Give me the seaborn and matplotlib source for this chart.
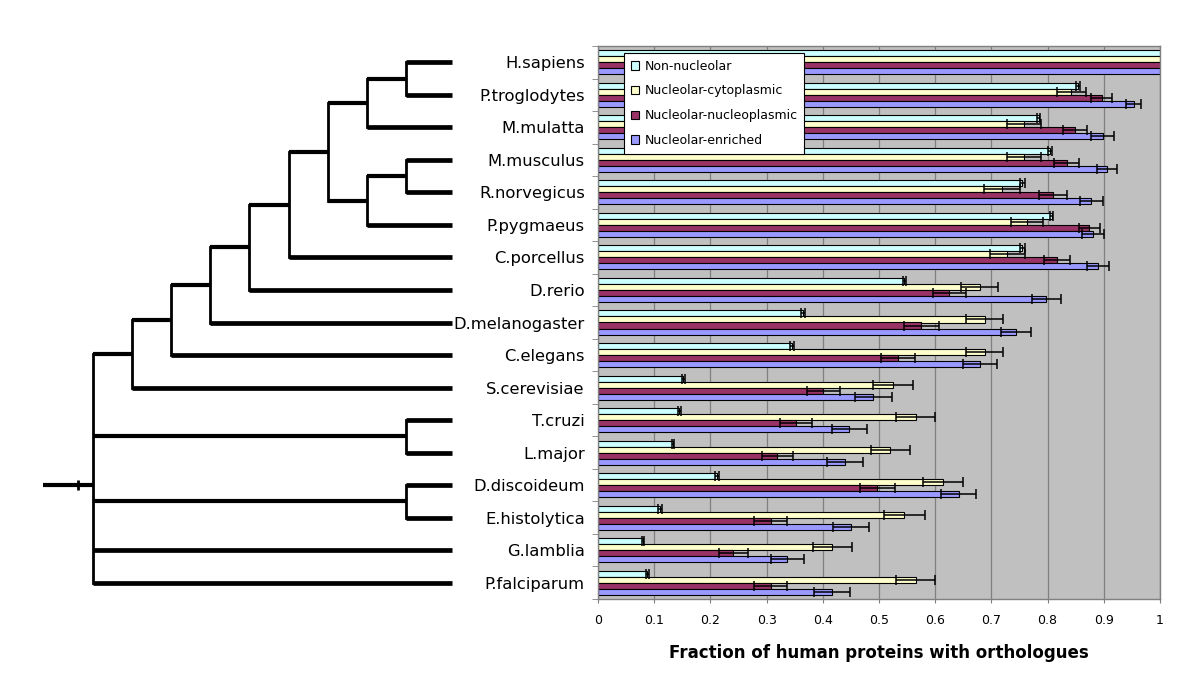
import numpy as np
import pandas as pd
import matplotlib
matplotlib.use("Agg")
import matplotlib.pyplot as plt
import seaborn as sns

plt.rcParams['font.family'] = ['DejaVu Sans']

# ---------------- data ----------------
species = ["H.sapiens", "P.troglodytes", "M.mulatta", "M.musculus", "R.norvegicus",
           "P.pygmaeus", "C.porcellus", "D.rerio", "D.melanogaster", "C.elegans",
           "S.cerevisiae", "T.cruzi", "L.major", "D.discoideum", "E.histolytica",
           "G.lamblia", "P.falciparum"]

series = ["Non-nucleolar", "Nucleolar-cytoplasmic", "Nucleolar-nucleoplasmic", "Nucleolar-enriched"]
colors = ["#CCFFFF", "#FFFFCC", "#993366", "#9999FF"]

non_nucleolar = [1.0, 0.854, 0.784, 0.804, 0.755, 0.807, 0.755, 0.545, 0.365, 0.345,
                 0.152, 0.145, 0.134, 0.212, 0.110, 0.080, 0.088]
non_nucleolar_err = [0, 0.003, 0.003, 0.003, 0.004, 0.003, 0.004, 0.003, 0.003, 0.003,
                     0.003, 0.003, 0.002, 0.003, 0.003, 0.002, 0.002]

nucleolar_cytoplasmic = [1.0, 0.842, 0.758, 0.758, 0.718, 0.763, 0.728, 0.679, 0.688, 0.688,
                         0.525, 0.565, 0.520, 0.614, 0.545, 0.417, 0.565]
nucleolar_cytoplasmic_err = [0, 0.026, 0.030, 0.030, 0.032, 0.029, 0.031, 0.033, 0.033, 0.033,
                             0.036, 0.035, 0.035, 0.035, 0.036, 0.035, 0.034]

nucleolar_nucleoplasmic = [1.0, 0.896, 0.849, 0.834, 0.809, 0.874, 0.816, 0.625, 0.575, 0.534,
                           0.401, 0.352, 0.319, 0.497, 0.307, 0.241, 0.307]
nucleolar_nucleoplasmic_err = [0, 0.018, 0.021, 0.022, 0.025, 0.019, 0.023, 0.029, 0.031, 0.030,
                               0.030, 0.028, 0.028, 0.031, 0.029, 0.026, 0.029]

nucleolar_enriched = [1.0, 0.953, 0.898, 0.906, 0.878, 0.881, 0.890, 0.798, 0.744, 0.680,
                      0.490, 0.447, 0.439, 0.642, 0.451, 0.337, 0.416]
nucleolar_enriched_err = [0, 0.014, 0.020, 0.018, 0.021, 0.020, 0.020, 0.025, 0.027, 0.030,
                          0.033, 0.031, 0.032, 0.031, 0.032, 0.029, 0.032]

x_ticks = [0, 0.1, 0.2, 0.3, 0.4, 0.5, 0.6, 0.7, 0.8, 0.9, 1]
x_tick_labels = ["0", "0.1", "0.2", "0.3", "0.4", "0.5", "0.6", "0.7", "0.8", "0.9", "1"]
x_label = "Fraction of human proteins with orthologues"

# phylogeny: (branch length, [children]) ; leaves are species names
n8a = (1, ["H.sapiens", "P.troglodytes"])
n7a = (1, [n8a, "M.mulatta"])
n8b = (1, ["M.musculus", "R.norvegicus"])
n7b = (1, [n8b, "P.pygmaeus"])
n6 = (1, [n7a, n7b])
n5 = (1, [n6, "C.porcellus"])
n4 = (1, [n5, "D.rerio"])
n3 = (1, [n4, "D.melanogaster"])
n2 = (1, [n3, "C.elegans"])
n1 = (1, [n2, "S.cerevisiae"])
tree = (0, [n1, (8, ["T.cruzi", "L.major"]), (8, ["D.discoideum", "E.histolytica"]),
            "G.lamblia", "P.falciparum"])

values = [non_nucleolar, nucleolar_cytoplasmic, nucleolar_nucleoplasmic, nucleolar_enriched]
errors = [non_nucleolar_err, nucleolar_cytoplasmic_err, nucleolar_nucleoplasmic_err, nucleolar_enriched_err]

df = pd.DataFrame({
    "species": np.tile(species, len(series)),
    "series": np.repeat(series, len(species)),
    "value": np.concatenate(values),
})

# ---------------- figure ----------------
W, H = 1200, 692
fig = plt.figure(figsize=(W / 100, H / 100), dpi=100)
ax = fig.add_axes([598 / W, 1 - 599 / H, 562 / W, 553 / H])
tax = fig.add_axes([0, 1 - 599 / H, 598 / W, 553 / H])

ax.set_facecolor("#C0C0C0")
sns.barplot(data=df, x="value", y="species", hue="series", order=species,
            hue_order=series, palette=colors, orient="h", width=0.74,
            edgecolor="black", linewidth=0.8, errorbar=None, saturation=1,
            ax=ax)

for cont, errs in zip(ax.containers, errors):
    for bar, e in zip(cont, errs):
        if e > 0:
            ax.errorbar(bar.get_width(), bar.get_y() + bar.get_height() / 2, xerr=e,
                        fmt="none", ecolor="black", elinewidth=1.1, capsize=3.6,
                        capthick=1.1, zorder=5)

ax.set_xlim(0, 1)
ax.set_ylim(len(species) - 0.5, -0.5)
ax.set_xticks(x_ticks)
ax.set_xticklabels(x_tick_labels, fontsize=9)
ax.xaxis.grid(True, color="#808080", lw=0.9)
ax.yaxis.grid(False)
ax.set_axisbelow(True)
ax.tick_params(axis="x", length=3, color="#808080", pad=8)
ax.tick_params(axis="y", which="major", length=0, pad=9.5, labelsize=11.8)
ax.set_yticks(np.arange(len(species) + 1) - 0.5, minor=True)
ax.tick_params(axis="y", which="minor", length=4, color="#808080", direction="out")
for s in ax.spines.values():
    s.set_color("#808080")
    s.set_linewidth(1)
ax.set_ylabel("")
ax.set_xlabel(x_label, fontsize=12, fontweight="bold", labelpad=12)

handles, labels = ax.get_legend_handles_labels()
for h in handles:
    h.set_edgecolor("black")
    h.set_linewidth(0.8)
leg = ax.legend(handles, labels, loc="upper left", bbox_to_anchor=(0.046, 0.988),
                frameon=True, fancybox=False, edgecolor="black", framealpha=1,
                fontsize=9, handlelength=0.7, handleheight=0.7, handletextpad=0.4,
                labelspacing=0.95, borderpad=0.55, borderaxespad=0)
leg.get_frame().set_linewidth(0.8)

# ---------------- tree ----------------
unit = 39.1
tax.set_xlim(-93 / unit, 505 / unit)
tax.set_ylim(len(species) - 0.5, -0.5)
tax.axis("off")
leaf_x = (452 - 93) / unit
idx = {s: i for i, s in enumerate(species)}
HLW, VLW = 3.4, 2.0


def draw(node, x_parent):
    if isinstance(node, str):
        y = idx[node]
        tax.plot([x_parent, leaf_x], [y, y], color="black", lw=HLW, solid_capstyle="butt")
        return y
    bl, children = node
    x = x_parent + bl
    ys = [draw(c, x) for c in children]
    y = float(np.mean(ys))
    tax.plot([x, x], [min(ys), max(ys)], color="black", lw=VLW, solid_capstyle="projecting")
    if bl > 0:
        tax.plot([x_parent, x], [y, y], color="black", lw=3.0, solid_capstyle="butt")
    return y


root_y = draw(tree, 0)
tax.plot([(43 - 93) / unit, 0], [root_y, root_y], color="black", lw=3.0, solid_capstyle="butt")
tax.plot([(78 - 93) / unit], [root_y], marker="|", color="black", markersize=7, mew=2)

fig.savefig("out.png", dpi=100)
